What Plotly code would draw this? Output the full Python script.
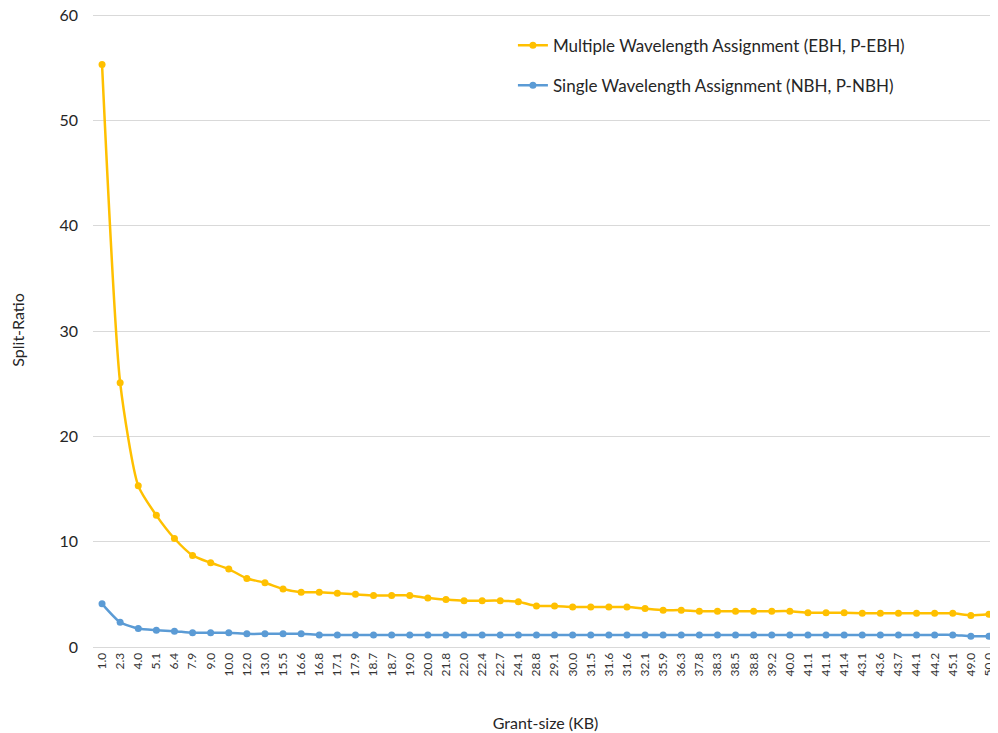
import plotly.graph_objects as go

grant_size = ["1.0", "2.3", "4.0", "5.1", "6.4", "7.9", "9.0", "10.0", "12.0", "13.0",
              "15.5", "16.6", "16.8", "17.1", "17.9", "18.7", "18.7", "19.0", "20.0", "21.8",
              "22.0", "22.4", "22.7", "24.1", "28.8", "29.1", "30.0", "31.5", "31.6", "31.6",
              "32.1", "35.9", "36.3", "37.8", "38.3", "38.5", "38.8", "39.2", "40.0", "41.1",
              "41.1", "41.4", "43.1", "43.6", "43.7", "44.1", "44.2", "45.1", "49.0", "50.0"]

multiple = [55.3, 25.1, 15.3, 12.5, 10.3, 8.7, 8.0, 7.4, 6.5, 6.1,
            5.5, 5.2, 5.2, 5.1, 5.0, 4.9, 4.9, 4.9, 4.65, 4.5,
            4.4, 4.4, 4.4, 4.3, 3.9, 3.9, 3.8, 3.8, 3.8, 3.8,
            3.65, 3.5, 3.5, 3.4, 3.4, 3.4, 3.4, 3.4, 3.4, 3.25,
            3.25, 3.25, 3.2, 3.2, 3.2, 3.2, 3.2, 3.2, 3.0, 3.1]

single = [4.1, 2.35, 1.75, 1.6, 1.5, 1.35, 1.35, 1.35, 1.25, 1.25,
          1.25, 1.25, 1.15, 1.15, 1.15, 1.15, 1.15, 1.15, 1.15, 1.15,
          1.15, 1.15, 1.15, 1.15, 1.15, 1.15, 1.15, 1.15, 1.15, 1.15,
          1.15, 1.15, 1.15, 1.15, 1.15, 1.15, 1.15, 1.15, 1.15, 1.15,
          1.15, 1.15, 1.15, 1.15, 1.15, 1.15, 1.15, 1.15, 1.02, 1.02]

idx = list(range(len(grant_size)))

FONT = "Lato"

fig = go.Figure()
fig.add_trace(go.Scatter(
    x=idx, y=multiple, mode="lines+markers",
    name="Multiple Wavelength Assignment (EBH, P-EBH)",
    line=dict(color="#FFC000", width=2.5, shape="spline", smoothing=0.6),
    marker=dict(color="#FFC000", size=7),
    legendgroup="a",
))
fig.add_trace(go.Scatter(
    x=idx, y=single, mode="lines+markers",
    name="Single Wavelength Assignment (NBH, P-NBH)",
    line=dict(color="#5B9BD5", width=2.5, shape="spline", smoothing=0.6),
    marker=dict(color="#5B9BD5", size=7),
    legendgroup="b",
))

# page body has an 8px default margin, so the figure is sized to fit inside the window
fig.update_layout(
    width=990, height=725,
    margin=dict(l=85, r=0, t=5, b=86, autoexpand=False),
    paper_bgcolor="white", plot_bgcolor="white",
    font=dict(family=FONT, color="#262626"),
    showlegend=True,
    legend=dict(
        x=0.464, y=0.977, xanchor="left", yanchor="top",
        font=dict(family=FONT, size=17, color="#262626"),
        bgcolor="rgba(0,0,0,0)", tracegroupgap=15,
    ),
    xaxis=dict(
        range=[-0.5, len(idx) - 0.5], automargin=False,
        tickmode="array", tickvals=idx, ticktext=grant_size,
        tickangle=-90, tickfont=dict(size=12, color="#333333"),
        ticklabeloverflow="allow",
        showgrid=False, zeroline=False,
        showline=True, linecolor="#d9d9d9", linewidth=1,
        ticks="", ticklen=0,
        title=dict(text="Grant-size (KB)", font=dict(size=16, color="#262626"), standoff=42),
    ),
    yaxis=dict(
        range=[0, 60.2], tickmode="linear", tick0=0, dtick=10, automargin=False,
        tickfont=dict(size=16, color="#262626"), ticklabelstandoff=14,
        ticklabeloverflow="allow",
        showgrid=True, gridcolor="#d9d9d9", gridwidth=1,
        zeroline=False, showline=False, ticks="",
        title=dict(text="Split-Ratio", font=dict(size=16, color="#262626"), standoff=31),
    ),
)

fig.write_html("out.html")
